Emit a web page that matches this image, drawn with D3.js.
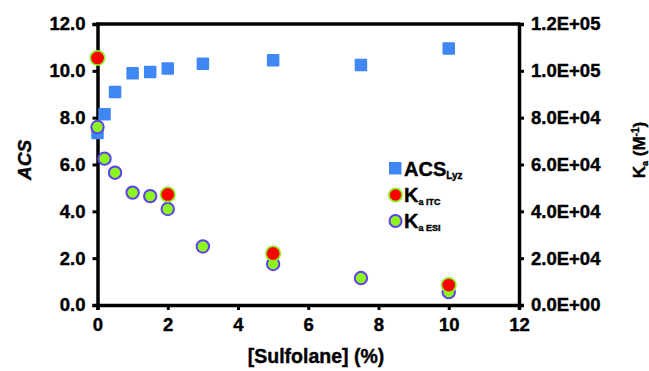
<!DOCTYPE html>
<html>
<head>
<meta charset="utf-8">
<script src="https://cdn.jsdelivr.net/npm/d3@7"></script>
<style>
  body { margin: 0; background: #fff; }
  text { font-family: Arial, "Liberation Sans", sans-serif; font-weight: bold; fill: #000; stroke: #000; stroke-width: 0.4; }
</style>
</head>
<body>
<div id="chart"></div>
<script>
// data
const acsX = [0, 0.2, 0.5, 1, 1.5, 2, 3, 5, 7.5, 10];
const acsY = [7.35, 8.15, 9.1, 9.9, 9.95, 10.1, 10.3, 10.45, 10.25, 10.95];
const itcX = [0, 2, 5, 10];
const itcK = [105500, 47200, 22000, 8500];
const esiX = [0, 0.2, 0.5, 1, 1.5, 2, 3, 5, 7.5, 10];
const esiK = [76000, 62500, 56500, 48000, 46500, 41000, 25000, 17500, 11500, 5500];
const xTicks = [0, 2, 4, 6, 8, 10, 12];
const leftTicks = [0, 2, 4, 6, 8, 10, 12];
const rightTicks = [0, 20000, 40000, 60000, 80000, 100000, 120000];

const width = 649, height = 371;
const plotLeft = 97.5, plotRight = 519, plotTop = 24, plotBottom = 305;

const svg = d3.select("#chart").append("svg")
  .attr("width", width).attr("height", height);

const x = d3.scaleLinear().domain([0, 12]).range([plotLeft, plotRight]);
const yL = d3.scaleLinear().domain([0, 12]).range([plotBottom, plotTop]);
const yR = d3.scaleLinear().domain([0, 120000]).range([plotBottom, plotTop]);

const blue = "#3f87f2", red = "#ff0000", green = "#8cf51c", purple = "#5f40ee";

// axes
const fmtR = d => {
  const e = d === 0 ? 0 : Math.floor(Math.log10(d));
  return (d / Math.pow(10, e)).toFixed(1) + "E+" + String(e).padStart(2, "0");
};

function styleAxis(g) {
  g.select(".domain").attr("stroke", "#000").attr("stroke-width", 3.5);
  g.selectAll(".tick line").attr("stroke", "#000").attr("stroke-width", 3);
  g.selectAll(".tick text").attr("font-size", 18.5).attr("font-weight", "bold")
    .attr("font-family", "Arial, 'Liberation Sans', sans-serif").attr("fill", "#000");
}

svg.append("g").attr("transform", `translate(0,${plotBottom})`)
  .call(d3.axisBottom(x).tickValues(xTicks).tickFormat(d3.format("d")).tickSizeOuter(0).tickSize(5).tickPadding(8))
  .call(styleAxis);

svg.append("g").attr("transform", `translate(${plotLeft},0)`)
  .call(d3.axisLeft(yL).tickValues(leftTicks).tickFormat(d3.format(".1f")).tickSizeOuter(0).tickSize(5).tickPadding(7))
  .call(styleAxis);

svg.append("g").attr("transform", `translate(${plotRight},0)`)
  .call(d3.axisRight(yR).tickValues(rightTicks).tickFormat(fmtR).tickSizeOuter(0).tickSize(5).tickPadding(7))
  .call(styleAxis);

// top frame line
svg.append("line").attr("x1", plotLeft - 1.5).attr("x2", plotRight + 1.5)
  .attr("y1", plotTop).attr("y2", plotTop).attr("stroke", "#000").attr("stroke-width", 3.5);

// axis titles
svg.append("text").attr("x", 316).attr("y", 363).attr("text-anchor", "middle")
  .attr("font-size", 19.5).text("[Sulfolane] (%)");

svg.append("text").attr("transform", "translate(31,160) rotate(-90)")
  .attr("text-anchor", "middle").attr("font-size", 19).attr("font-style", "italic").text("ACS");

const kt = svg.append("text").attr("transform", "translate(645,150) rotate(-90)")
  .attr("text-anchor", "middle").attr("font-size", 17);
kt.append("tspan").text("K");
kt.append("tspan").attr("font-size", 9).attr("dy", 3).text("a");
kt.append("tspan").attr("dy", -3).text(" (M");
kt.append("tspan").attr("font-size", 10).attr("dy", -6).text("-1");
kt.append("tspan").attr("dy", 6).text(")");

// ACS squares
const sq = 12.5;
svg.append("g").selectAll("rect").data(acsX.map((d, i) => ({ x: d, y: acsY[i] })))
  .join("rect")
  .attr("x", d => x(d.x) - sq / 2).attr("y", d => yL(d.y) - sq / 2)
  .attr("width", sq).attr("height", sq).attr("rx", 1).attr("fill", blue);

// K ESI circles
svg.append("g").selectAll("circle").data(esiX.map((d, i) => ({ x: d, k: esiK[i] })))
  .join("circle")
  .attr("cx", d => x(d.x)).attr("cy", d => yR(d.k)).attr("r", 6.2)
  .attr("fill", green).attr("stroke", purple).attr("stroke-width", 2);

// K ITC circles
svg.append("g").selectAll("circle").data(itcX.map((d, i) => ({ x: d, k: itcK[i] })))
  .join("circle")
  .attr("cx", d => x(d.x)).attr("cy", d => yR(d.k)).attr("r", 7.2)
  .attr("fill", red).attr("stroke", green).attr("stroke-width", 1.6);

// legend
const lg = svg.append("g");
lg.append("rect").attr("x", 389).attr("y", 162).attr("width", 12.5).attr("height", 12.5).attr("fill", blue);
const t1 = lg.append("text").attr("x", 404).attr("y", 176).attr("font-size", 20);
t1.append("tspan").text("ACS");
t1.append("tspan").attr("font-size", 10).attr("dy", 3).text("Lyz");

lg.append("circle").attr("cx", 395.5).attr("cy", 195).attr("r", 6.6)
  .attr("fill", red).attr("stroke", green).attr("stroke-width", 1.8);
const t2 = lg.append("text").attr("x", 404).attr("y", 202).attr("font-size", 20);
t2.append("tspan").text("K");
t2.append("tspan").attr("font-size", 9).attr("dy", 3).text("a ITC");

lg.append("circle").attr("cx", 395.5).attr("cy", 221).attr("r", 6)
  .attr("fill", green).attr("stroke", purple).attr("stroke-width", 2);
const t3 = lg.append("text").attr("x", 404).attr("y", 228).attr("font-size", 20);
t3.append("tspan").text("K");
t3.append("tspan").attr("font-size", 9).attr("dy", 3).text("a ESI");
</script>
</body>
</html>
